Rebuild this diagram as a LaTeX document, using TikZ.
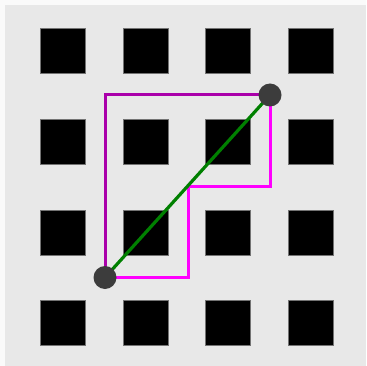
\documentclass[tikz,border=0pt]{standalone}
\definecolor{bgout}{HTML}{FAFAFA}
\definecolor{bgin}{HTML}{E8E8E8}
\definecolor{pathA}{HTML}{AA00AA}
\definecolor{pathB}{HTML}{FF00FF}
\definecolor{direct}{HTML}{008000}
\definecolor{dotc}{HTML}{3C3C3C}
\begin{document}
\begin{tikzpicture}[x=1pt,y=-1pt,
  block/.style={fill=black,draw=black!55,line width=0.6pt,minimum size=45pt,inner sep=0pt,outer sep=0pt},
  endpt/.style={circle,fill=dotc,minimum size=23pt,inner sep=0pt,outer sep=0pt},
  route/.style={line width=3pt,line join=miter}]
\useasboundingbox (0,0) rectangle (366,366);
\fill[bgout] (0,0) rectangle (366,366);
\fill[bgin] (5,5) rectangle (366,366);
\foreach \i/\x in {1/63,2/145.6,3/228.2,4/310.8}{
  \foreach \j/\y in {1/50.5,2/141.5,3/232.5,4/323}{
    \node[block] (b\i\j) at (\x,\y) {};
  }
}
\coordinate (s) at (105,277.5);
\coordinate (t) at (270,95);
\coordinate (c1) at (105,95);
\coordinate (m1) at (270,186);
\coordinate (m2) at (188.5,186);
\coordinate (m3) at (188.5,277.5);
\draw[route,pathA] (s) -- (c1) -- (t);
\draw[route,pathB] (t) -- (m1) -- (m2) -- (m3) -- (s);
\draw[line width=3.2pt,direct] (s) -- (t);
\node[endpt] (start) at (s) {};
\node[endpt] (goal) at (t) {};
\end{tikzpicture}
\end{document}
